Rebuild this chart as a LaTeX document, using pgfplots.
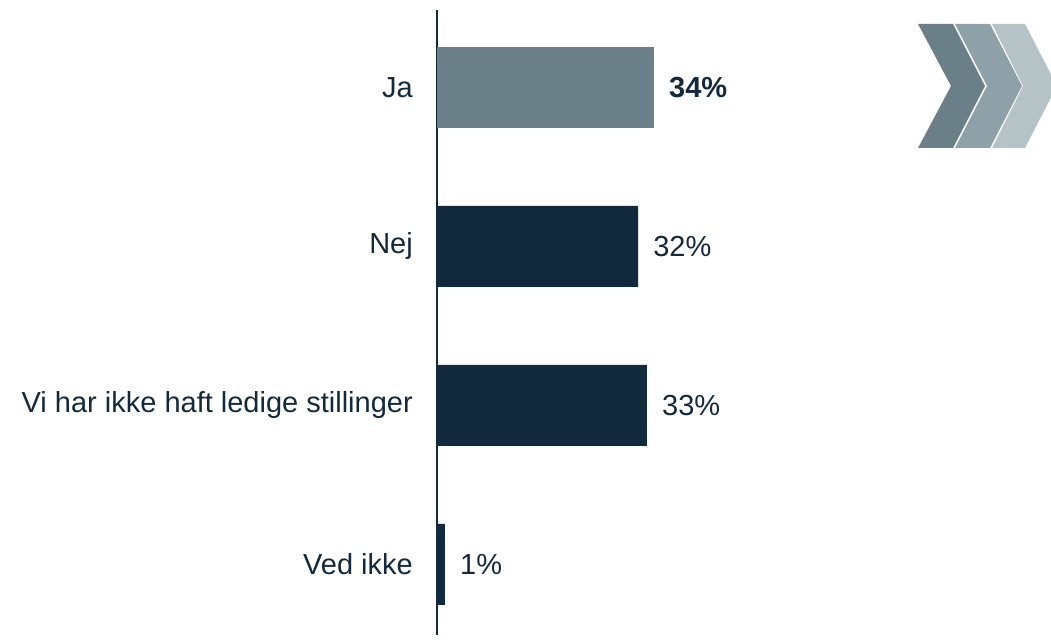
\documentclass[border=0pt]{standalone}
\usepackage{pgfplots}
\pgfplotsset{compat=1.18}
\usepackage{fontspec}
\setmainfont{Liberation Sans}
\definecolor{navy}{HTML}{13293D}
\definecolor{slate}{HTML}{6A7F88}
\definecolor{chevtwo}{HTML}{8FA1A8}
\definecolor{chevthree}{HTML}{B5C3C6}
\begin{document}
\begin{tikzpicture}[x=1pt,y=1pt]
\path (0,0) rectangle (1051,642);
\begin{axis}[at={(437pt,7pt)}, anchor=south west, scale only axis,
  width=614pt, height=625pt,
  xmin=0, xmax=96.2, ymin=-0.4434, ymax=3.4874,
  xbar, bar width=81pt, bar shift=0pt,
  axis x line=none, axis y line*=left,
  axis line style={navy, line width=1.3pt, -},
  ytick={0,1,2,3},
  yticklabels={Ved ikke, Vi har ikke haft ledige stillinger, Nej, Ja},
  major tick length=0pt,
  yticklabel style={font=\fontsize{29}{34}\selectfont, text=navy, inner sep=0pt, anchor=east, xshift=-24pt},
  nodes near coords, point meta=explicit symbolic,
  every node near coord/.append style={font=\fontsize{29}{34}\selectfont, text=navy, anchor=west, inner sep=0pt, xshift=15pt},
  clip=false]
\addplot[fill=navy, draw=none] coordinates {(1.25,0)[1\%] (32.9,1)[33\%] (31.5,2)[32\%]};
\addplot[fill=slate, draw=none, every node near coord/.append style={font=\fontsize{29}{34}\selectfont\bfseries}] coordinates {(34,3)[34\%]};
\end{axis}
\fill[slate] (918,618) -- (953,618) -- (985,556) -- (953,494) -- (918,494) -- (951,556) -- cycle;
\fill[chevtwo] (955,618) -- (990,618) -- (1022,556) -- (990,494) -- (955,494) -- (987,556) -- cycle;
\fill[chevthree] (992,618) -- (1025,618) -- (1051,567.6) -- (1051,544.4) -- (1025,494) -- (992,494) -- (1023,556) -- cycle;
\end{tikzpicture}
\end{document}
